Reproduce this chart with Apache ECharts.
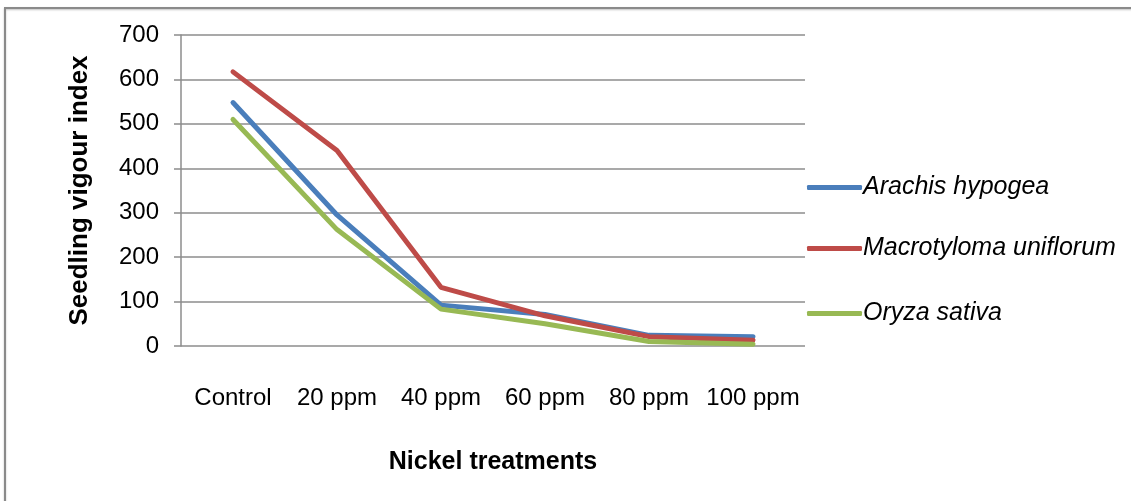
<!DOCTYPE html>
<html>
<head>
<meta charset="utf-8">
<script src="https://cdn.jsdelivr.net/npm/echarts@6/dist/echarts.min.js"></script>
<style>
  html, body { margin: 0; padding: 0; background: #fff; }
  #chart-container { width: 1131px; height: 501px; }
</style>
</head>
<body>
<div id="chart-container"></div>
<script>
// data
var categories = ['Control', '20 ppm', '40 ppm', '60 ppm', '80 ppm', '100 ppm'];
var seriesNames = ['Arachis hypogea', 'Macrotyloma uniflorum', 'Oryza sativa'];
var arachis = [548, 295, 92, 71, 24, 21];
var macrotyloma = [617, 440, 132, 68, 21, 13];
var oryza = [510, 262, 83, 50, 10, 4];
var yTicks = [0, 700, 100]; // min, max, step

var colors = ['#4A7EBB', '#BE4B48', '#98B954'];
var font = 'Liberation Sans';

var legendTops = [170, 231, 296];
var legends = seriesNames.map(function (name, i) {
    return {
        data: [name],
        orient: 'vertical',
        left: 802,
        top: legendTops[i],
        icon: 'roundRect',
        itemWidth: 55,
        itemHeight: 5,
        itemGap: 0,
        textStyle: {
            fontFamily: font,
            fontStyle: 'italic',
            fontSize: 25,
            color: '#000',
            padding: [0, 0, 0, -4]
        }
    };
});

var allData = [arachis, macrotyloma, oryza];
var series = allData.map(function (d, i) {
    return {
        type: 'line',
        name: seriesNames[i],
        data: d,
        showSymbol: false,
        symbol: 'none',
        color: colors[i],
        lineStyle: { width: 5, color: colors[i], cap: 'round' },
        z: 3 + i
    };
});

var option = {
    animation: false,
    backgroundColor: '#fff',
    graphic: [{
        type: 'rect',
        shape: { x: 5, y: 8, width: 1140, height: 510 },
        style: { fill: 'none', stroke: '#8a8a8a', lineWidth: 2,
                 shadowColor: 'rgba(0,0,0,0.25)', shadowBlur: 2, shadowOffsetY: 1 },
        silent: true
    }],
    legend: legends,
    grid: { left: 181, right: 326, top: 35, bottom: 155 },
    xAxis: {
        type: 'category',
        data: categories,
        boundaryGap: true,
        name: 'Nickel treatments',
        nameLocation: 'middle',
        nameGap: 104,
        nameTextStyle: { fontFamily: font, fontWeight: 'bold', fontSize: 25, color: '#000' },
        axisLine: { show: false },
        axisTick: { show: false },
        axisLabel: { fontFamily: font, fontSize: 24, color: '#000', margin: 40, interval: 0, hideOverlap: false }
    },
    yAxis: {
        type: 'value',
        min: yTicks[0],
        max: yTicks[1],
        interval: yTicks[2],
        name: 'Seedling vigour index',
        nameLocation: 'middle',
        nameGap: 88,
        nameRotate: 90,
        nameTextStyle: { fontFamily: font, fontWeight: 'bold', fontSize: 26, color: '#000' },
        axisLine: { show: true, lineStyle: { color: '#8c8c8c', width: 1.5 } },
        axisTick: { show: true, inside: false, length: 7, lineStyle: { color: '#8c8c8c', width: 1.5 } },
        axisLabel: { fontFamily: font, fontSize: 24, color: '#000', margin: 22 },
        splitLine: { show: true, lineStyle: { color: '#8c8c8c', width: 1.5 } }
    },
    series: series
};

var myChart = echarts.init(document.getElementById('chart-container'));
myChart.setOption(option);
</script>
</body>
</html>
